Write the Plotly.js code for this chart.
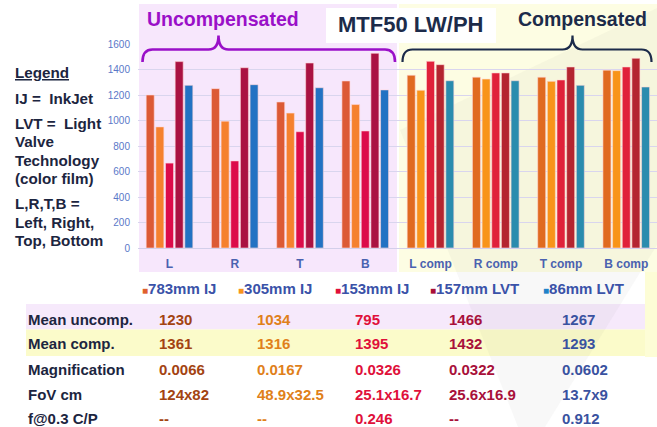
<!DOCTYPE html>
<html><head><meta charset="utf-8">
<script src="https://cdn.plot.ly/plotly-3.0.1.min.js"></script>
<style>html,body{margin:0;padding:0;background:#fff}#chart{width:657px;height:427px}</style>
</head><body><div id="chart"></div>
<script>
// ---------- data ----------
const categories = ['L','R','T','B','L comp','R comp','T comp','B comp'];
const seriesNames = ['783mm IJ','305mm IJ','153mm IJ','157mm LVT','86mm LVT'];
const ij783  = [1200,1250,1145,1310, 1355,1340,1340,1395];
const ij305  = [ 950, 995,1058,1125, 1237,1325,1307,1391];
const ij153  = [ 666, 683, 912, 918, 1464,1373,1318,1420];
const lvt157 = [1462,1414,1451,1527, 1438,1373,1420,1488];
const lvt86  = [1276,1281,1257,1240, 1312,1312,1276,1263];

const rowLabels   = ['Mean uncomp.','Mean comp.','Magnification','FoV cm','f@0.3 C/P'];
const meanUncomp  = ['1230','1034','795','1466','1267'];
const meanComp    = ['1361','1316','1395','1432','1293'];
const magnification = ['0.0066','0.0167','0.0326','0.0322','0.0602'];
const fovCm       = ['124x82','48.9x32.5','25.1x16.7','25.6x16.9','13.7x9'];
const fAt03       = ['--','--','0.246','--','0.912'];

const notesLines = ['<u>Legend</u>','IJ =\u00a0 InkJet','LVT =\u00a0 Light','Valve','Technology','(color film)','L,R,T,B =','Left, Right,','Top, Bottom'];

// ---------- styles ----------
const uncompColors = ['#dc5a35','#f5812e','#dc0b4a','#aa1242','#2272c3'];
const compColors   = ['#e06a20','#f89419','#e0213a','#b42530','#2a8cae'];
const legendColors = ['#e0602d','#f8941d','#e0103a','#a81038','#1f82c8'];
const tableColors  = ['#a34312','#e0801a','#e0103a','#a8103a','#3a52a0'];
const FONT = 'Liberation Sans, Arial, sans-serif';
const W = 657, H = 427;
const fx = x => x / W, fy = y => 1 - y / H;

const values = [ij783, ij305, ij153, lvt157, lvt86];
const traces = values.map((v, i) => ({
  type: 'bar', name: seriesNames[i], x: categories, y: v,
  marker: {
    color: categories.map((c, k) => k < 4 ? uncompColors[i] : compColors[i]),
    line: {color: 'rgba(255,215,215,0.75)', width: 0.8}
  },
  hoverinfo: 'x+y+name'
}));

// ---------- shapes ----------
function rect(x0, y0, x1, y1, color) {
  return {type: 'rect', xref: 'paper', yref: 'paper', x0: fx(x0), x1: fx(x1), y0: fy(y1), y1: fy(y0),
          fillcolor: color, line: {width: 0}, layer: 'below'};
}
function pathFrom(cmds) {
  return cmds.map(c => c[0] + c.slice(1).map((v, j) => j % 2 === 0 ? fx(v).toFixed(5) : fy(v).toFixed(5)).reduce((a, b, j) => a + (j % 2 ? ',' : (j ? ' ' : '')) + b, '')).join(' ');
}
function brace(x0, x1, xm, yh, yend, ypeak, r, color, w) {
  const cmds = [
    ['M', x0, yend],
    ['Q', x0, yh, x0 + r, yh],
    ['L', xm - r, yh],
    ['Q', xm, yh, xm, ypeak],
    ['Q', xm, yh, xm + r, yh],
    ['L', x1 - r, yh],
    ['Q', x1, yh, x1, yend]
  ];
  return {type: 'path', xref: 'paper', yref: 'paper', path: pathFrom(cmds),
          line: {color: color, width: w}, layer: 'above'};
}
function poly(pts, color) {
  const cmds = pts.map((p, i) => [i ? 'L' : 'M', p[0], p[1]]);
  return {type: 'path', xref: 'paper', yref: 'paper', path: pathFrom(cmds) + ' Z',
          fillcolor: color, line: {width: 0}, layer: 'below'};
}

const shapes = [
  rect(139, 4, 397, 272, '#f7e7fc'),
  rect(399, 4, 657, 272, '#fdfde3'),
  rect(645, 272, 657, 357, '#fdfdd6'),
  rect(26, 304, 645, 329.5, '#f6e9fb'),
  rect(26, 329.5, 645, 356, '#fbfbca'),
  poly([[400,130],[657,8],[657,245],[545,427],[518,427]], 'rgba(110,110,110,0.05)'),
  rect(326, 8, 496, 43, '#ffffff'),
  brace(142.5, 395, 218.5, 49.5, 62, 35.5, 10, '#9a10c8', 2.6),
  brace(402.5, 651.5, 572.5, 49.5, 62, 35.5, 10, '#1c2b4a', 2.2)
];

// ---------- annotations ----------
const annotations = [];
function txt(text, x, y, size, color, anchor, extra) {
  annotations.push(Object.assign({xref: 'paper', yref: 'paper', x: fx(x), y: fy(y), text: text,
    showarrow: false, xanchor: anchor || 'left', yanchor: 'middle',
    font: {family: FONT, size: size, color: color, weight: 700}}, extra || {}));
}
txt('MTF50 LW/PH', 410.5, 25, 22, '#1c2b4a', 'center');
txt('Uncompensated', 223, 19, 19.5, '#9a10c8', 'center');
txt('Compensated', 582.5, 18.5, 19.5, '#1c2b4a', 'center');

const noteY = [73, 98, 123, 141.5, 160, 178.5, 203, 222, 241];
notesLines.forEach((t, i) => txt(t, 13, noteY[i], 15.2, '#1c2540', 'left'));

const legX = [140, 236, 333, 428, 541];
seriesNames.forEach((n, i) => txt('<span style="color:' + legendColors[i] + ';font-size:10px">\u25A0</span>' + n,
  legX[i], 288.5, 15, '#3a52a8', 'left'));

const rowY = [319, 343.5, 369, 394, 418.5];
const colX = [157, 255, 353, 447, 560];
const rows = [meanUncomp, meanComp, magnification, fovCm, fAt03];
rowLabels.forEach((l, r) => {
  txt(l, 26, rowY[r], 15, '#1c2540', 'left');
  rows[r].forEach((v, c) => txt(v, colX[c], rowY[r], 15, tableColors[c], 'left'));
});

const layout = {
  width: W, height: H,
  margin: {l: 0, r: 0, t: 0, b: 0, pad: 0},
  paper_bgcolor: '#ffffff', plot_bgcolor: 'rgba(0,0,0,0)',
  showlegend: false,
  barmode: 'group', bargap: 0.26, bargroupgap: 0.17,
  xaxis: {
    domain: [138 / W, 1], range: [-0.483, 7.471], type: 'category',
    showgrid: false, zeroline: false, showline: false, ticks: '',
    tickfont: {family: FONT, size: 12, color: '#4a62b0', weight: 700},
    ticklabelstandoff: 7
  },
  yaxis: {
    domain: [fy(248), fy(44)], range: [0, 1600], dtick: 200,
    showgrid: true, gridcolor: '#d9d5ee', gridwidth: 1,
    zeroline: true, zerolinecolor: '#d3cfea', zerolinewidth: 1,
    showline: false, ticks: '',
    tickfont: {family: FONT, size: 10, color: '#5a78c8'},
    ticklabelstandoff: 7
  },
  shapes: shapes,
  annotations: annotations,
  font: {family: FONT}
};

Plotly.newPlot('chart', traces, layout, {displayModeBar: false, staticPlot: true});
</script>
</body></html>
